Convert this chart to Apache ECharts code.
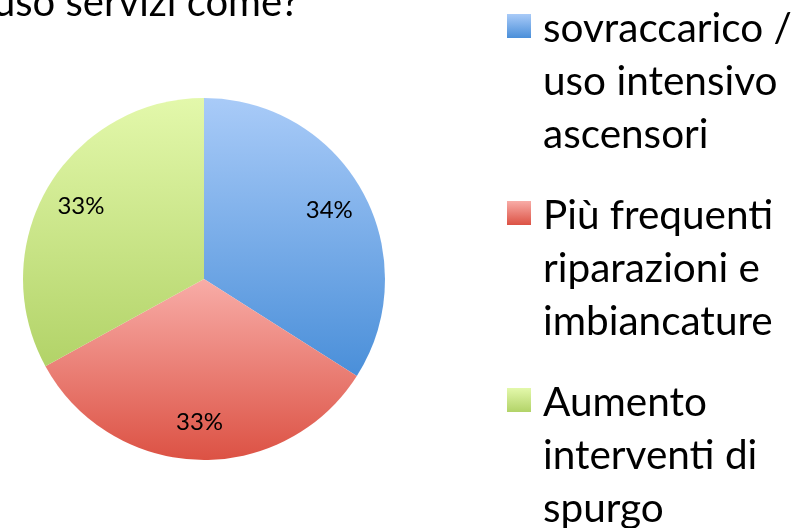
<!DOCTYPE html>
<html>
<head>
<meta charset="utf-8">
<script src="https://cdn.jsdelivr.net/npm/echarts@6/dist/echarts.min.js"></script>
<style>
  html, body { margin: 0; padding: 0; background: #fff; }
  #chart { width: 794px; height: 528px; }
</style>
</head>
<body>
<div id="chart"></div>
<script>
// data
const titleText = 'uso servizi come?';
const categories = [
  'sovraccarico /\nuso intensivo\nascensori',
  'Più frequenti\nriparazioni e\nimbiancature',
  'Aumento\ninterventi di\nspurgo',
];
const values = [34, 33, 33];
const topColors = ['#a9cbf8', '#f8aca7', '#e3f8ab'];
const bottomColors = ['#4a8fd9', '#dc5244', '#b2d368'];

const FONT = 'Lato';
const ITEM_H = 159;
const SQ_TOP = 12;
const SQ = 24;

function grad(i, y0, y1) {
  return new echarts.graphic.LinearGradient(0, y0, 0, y1, [
    { offset: 0, color: topColors[i] },
    { offset: 1, color: bottomColors[i] },
  ]);
}

const pieData = categories.map((name, i) => ({
  name: name,
  value: values[i],
  itemStyle: { color: grad(i, 0, 1) },
}));

const labelData = categories.map((name, i) => ({
  name: name,
  value: values[i],
}));

const legendData = categories.map((name, i) => ({
  name: name,
  itemStyle: { color: grad(i, SQ_TOP / ITEM_H, (SQ_TOP + SQ) / ITEM_H) },
}));

const chart = echarts.init(document.getElementById('chart'));

const option = {
  backgroundColor: '#fff',
  animation: false,
  title: {
    text: titleText,
    left: -7,
    top: -17,
    padding: 0,
    textStyle: {
      fontFamily: FONT,
      fontSize: 40,
      fontWeight: 'normal',
      color: '#000',
    },
  },
  legend: {
    orient: 'vertical',
    left: 507,
    top: 2,
    height: 600,
    padding: 0,
    itemWidth: 31,
    itemHeight: ITEM_H,
    itemGap: 28,
    icon: `path://M0 ${SQ_TOP}H${SQ}V${SQ_TOP + SQ}H0Z M0 0L0.01 0 M31 ${ITEM_H}L30.99 ${ITEM_H}`,
    selectedMode: false,
    textStyle: {
      fontFamily: FONT,
      fontSize: 40.5,
      lineHeight: 53,
      color: '#000',
    },
    data: legendData,
  },
  series: [
    {
      type: 'pie',
      center: [204, 279],
      radius: 181,
      startAngle: 90,
      clockwise: true,
      label: { show: false },
      labelLine: { show: false },
      emphasis: { disabled: true },
      itemStyle: { borderWidth: 0 },
      data: pieData,
    },
    {
      type: 'pie',
      center: [204, 279],
      radius: [100, 180],
      startAngle: 90,
      clockwise: true,
      silent: true,
      percentPrecision: 0,
      itemStyle: { color: 'rgba(0,0,0,0)', borderWidth: 0 },
      label: {
        show: true,
        position: 'inside',
        formatter: '{d}%',
        fontFamily: FONT,
        fontSize: 24,
        color: '#000',
      },
      labelLine: { show: false },
      emphasis: { disabled: true },
      data: labelData,
    },
  ],
};

chart.setOption(option);
</script>
</body>
</html>
